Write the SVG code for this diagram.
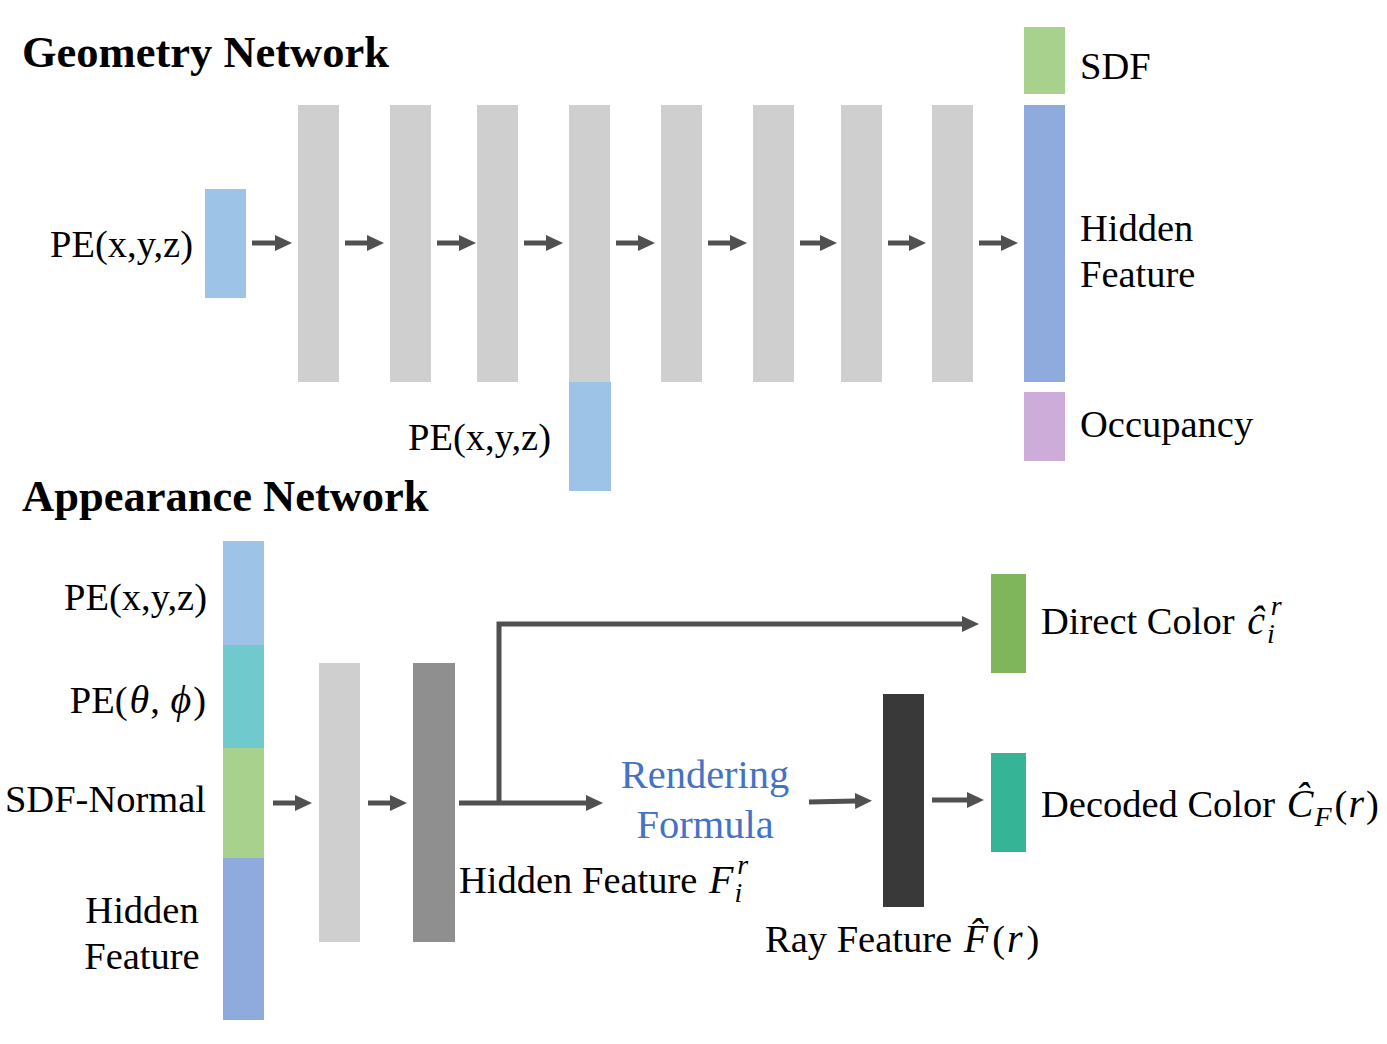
<svg xmlns="http://www.w3.org/2000/svg" width="1387" height="1044" viewBox="0 0 1387 1044">
<style>
text{font-family:"Liberation Serif","Times New Roman",serif;fill:#000}
.t{font-size:38.5px}
.h{font-size:44.5px;font-weight:bold}
.m{font-style:italic;font-size:40px}
.s{font-style:italic;font-size:28px}
.rf{font-size:40.5px;fill:#4472c4}
.gray{fill:#d0cfcf}
.pe{fill:#9dc3e6}
.c{stroke:#505050;stroke-width:5;fill:none}
</style>
<defs>
<marker id="ah" markerUnits="userSpaceOnUse" markerWidth="17" markerHeight="18" viewBox="0 0 17 18" refX="1" refY="9" orient="auto">
<path d="M0,1 L17,9 L0,17 z" fill="#505050"/>
</marker>
</defs>
<rect width="1387" height="1044" fill="#fff"/>

<g id="titles">
<text class="h" x="22" y="67">Geometry Network</text>
<text class="h" x="22" y="511">Appearance Network</text>
</g>

<!-- Geometry network -->
<g id="geo-input">
<rect class="pe" x="205" y="189" width="41" height="109"/>
<text class="t" x="193" y="257" text-anchor="end">PE(x,y,z)</text>
</g>
<g id="geo-l1"><rect class="gray" x="298" y="105" width="41" height="277"/></g>
<g id="geo-l2"><rect class="gray" x="390" y="105" width="41" height="277"/></g>
<g id="geo-l3"><rect class="gray" x="477" y="105" width="41" height="277"/></g>
<g id="geo-l4"><rect class="gray" x="569" y="105" width="41" height="277"/></g>
<g id="geo-skip">
<rect class="pe" x="569" y="382" width="42" height="109"/>
<text class="t" x="551" y="450" text-anchor="end">PE(x,y,z)</text>
</g>
<g id="geo-l5"><rect class="gray" x="661" y="105" width="41" height="277"/></g>
<g id="geo-l6"><rect class="gray" x="753" y="105" width="41" height="277"/></g>
<g id="geo-l7"><rect class="gray" x="841" y="105" width="41" height="277"/></g>
<g id="geo-l8"><rect class="gray" x="932" y="105" width="41" height="277"/></g>
<g id="geo-sdf">
<rect x="1024" y="27" width="41" height="67" fill="#a9d18e"/>
<text class="t" x="1080" y="79">SDF</text>
</g>
<g id="geo-hidden">
<rect x="1024" y="105" width="41" height="277" fill="#8faadc"/>
<text class="t" x="1080" y="241">Hidden</text>
<text class="t" x="1080" y="287">Feature</text>
</g>
<g id="geo-occ">
<rect x="1024" y="392" width="41" height="69" fill="#cdacd9"/>
<text class="t" x="1080" y="437">Occupancy</text>
</g>

<!-- Appearance network -->
<g id="app-input">
<rect x="223" y="541" width="41" height="104" fill="#9dc3e6"/>
<rect x="223" y="645" width="41" height="103" fill="#70c9cc"/>
<rect x="223" y="748" width="41" height="110" fill="#a9d18e"/>
<rect x="223" y="858" width="41" height="162" fill="#8faadc"/>
<text class="t" x="207" y="610" text-anchor="end">PE(x,y,z)</text>
<text class="t" x="206" y="713" text-anchor="end">PE(<tspan class="m" dx="2">θ</tspan><tspan dx="1">,</tspan> <tspan class="m" dx="1">ϕ</tspan><tspan dx="2">)</tspan></text>
<text class="t" x="206" y="812" text-anchor="end">SDF-Normal</text>
<text class="t" x="142" y="923" text-anchor="middle">Hidden</text>
<text class="t" x="142" y="969" text-anchor="middle">Feature</text>
</g>
<g id="app-l1"><rect class="gray" x="319" y="663" width="41" height="279"/></g>
<g id="app-l2">
<rect x="413" y="663" width="42" height="279" fill="#8f8f8f"/>
<text class="t" x="459" y="893">Hidden Feature <tspan class="m" dx="2">F</tspan><tspan class="s" dx="1" dy="9">i</tspan><tspan class="s" dx="-5" dy="-28">r</tspan></text>
</g>
<g id="render">
<text class="rf" x="705" y="788" text-anchor="middle">Rendering</text>
<text class="rf" x="705" y="838" text-anchor="middle">Formula</text>
</g>
<g id="ray">
<rect x="883" y="694" width="41" height="213" fill="#3a3939"/>
<text class="t" x="765" y="952">Ray Feature <tspan class="m" dx="2">F̂</tspan><tspan dx="4">(</tspan><tspan class="m" dx="2">r</tspan><tspan dx="4">)</tspan></text>
</g>
<g id="direct">
<rect x="991" y="574" width="35" height="99" fill="#7fb55b"/>
<text class="t" x="1041" y="634">Direct Color <tspan class="m" dx="3">ĉ</tspan><tspan class="s" dx="2" dy="9">i</tspan><tspan class="s" dx="-4" dy="-28">r</tspan></text>
</g>
<g id="decoded">
<rect x="991" y="753" width="35" height="99" fill="#36b496"/>
<text class="t" x="1041" y="817">Decoded Color <tspan class="m" dx="2">Ĉ</tspan><tspan class="s" dx="1" dy="9">F</tspan><tspan dx="3" dy="-9">(</tspan><tspan class="m" dx="1">r</tspan><tspan dx="2">)</tspan></text>
</g>

<g id="connectors">
<path class="c" marker-end="url(#ah)" d="M252,243 H276"/>
<path class="c" marker-end="url(#ah)" d="M345,243 H368"/>
<path class="c" marker-end="url(#ah)" d="M437,243 H460"/>
<path class="c" marker-end="url(#ah)" d="M524,243 H547"/>
<path class="c" marker-end="url(#ah)" d="M616,243 H639"/>
<path class="c" marker-end="url(#ah)" d="M708,243 H731"/>
<path class="c" marker-end="url(#ah)" d="M800,243 H821"/>
<path class="c" marker-end="url(#ah)" d="M888,243 H910"/>
<path class="c" marker-end="url(#ah)" d="M979,243 H1002"/>
<path class="c" marker-end="url(#ah)" d="M273,803 H296"/>
<path class="c" marker-end="url(#ah)" d="M368,803 H391"/>
<path class="c" stroke-width="4" marker-end="url(#ah)" d="M459,803 H587"/>
<path class="c" stroke-width="4" marker-end="url(#ah)" d="M499,803 V624 H963"/>
<path class="c" marker-end="url(#ah)" d="M809,802 L856,801"/>
<path class="c" marker-end="url(#ah)" d="M932,800 H968"/>
</g>
</svg>
